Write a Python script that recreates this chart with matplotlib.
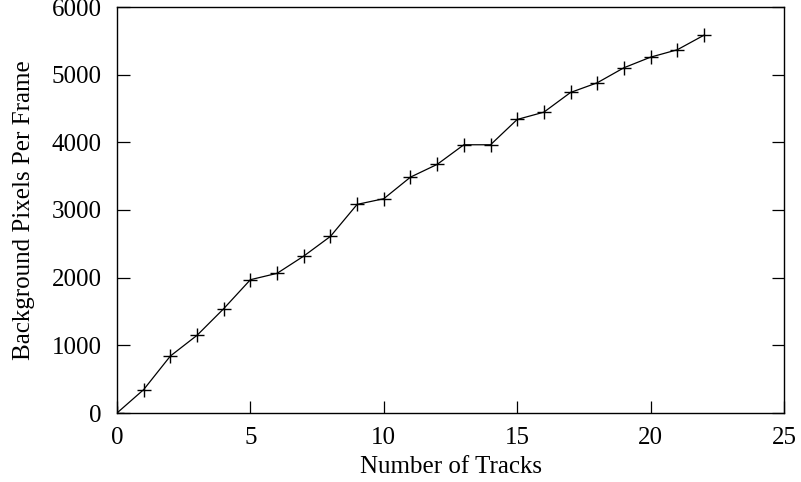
import matplotlib
matplotlib.use('Agg')
import matplotlib.pyplot as plt

# Data
tracks = [0, 1, 2, 3, 4, 5, 6, 7, 8, 9, 10, 11, 12, 13, 14, 15, 16, 17, 18, 19, 20, 21, 22]
bg_pixels = [0, 346, 842, 1148, 1542, 1970, 2064, 2319, 2610, 3083, 3167, 3486,
             3674, 3964, 3964, 4338, 4446, 4737, 4880, 5102, 5259, 5368, 5583]

x_ticks = [0, 5, 10, 15, 20, 25]
y_ticks = [0, 1000, 2000, 3000, 4000, 5000, 6000]

plt.rcParams['font.family'] = ['Liberation Serif', 'DejaVu Serif']

fig = plt.figure(figsize=(8.01, 4.82), dpi=100)
ax = fig.add_axes([117 / 801, 1 - 413 / 482, 667 / 801, 406 / 482])

ax.plot(tracks, bg_pixels, color='black', linewidth=0.9,
        marker='+', markersize=10, markeredgewidth=1.0)

ax.set_xlim(0, 25)
ax.set_ylim(0, 6000)
ax.set_xticks(x_ticks)
ax.set_yticks(y_ticks)
# gnuplot style: inward ticks, mirrored on the right only
ax.tick_params(axis='x', direction='in', length=9, width=0.9, labelsize=18,
               top=False, pad=10)
ax.tick_params(axis='y', direction='in', length=9, width=0.9, labelsize=18,
               right=True, pad=11)
for s in ax.spines.values():
    s.set_linewidth(1.0)

ax.set_xlabel('Number of Tracks', fontsize=18, labelpad=5)
ax.set_ylabel('Background Pixels Per Frame', fontsize=18, labelpad=12)

plt.savefig('out.png', dpi=100)
plt.close()
